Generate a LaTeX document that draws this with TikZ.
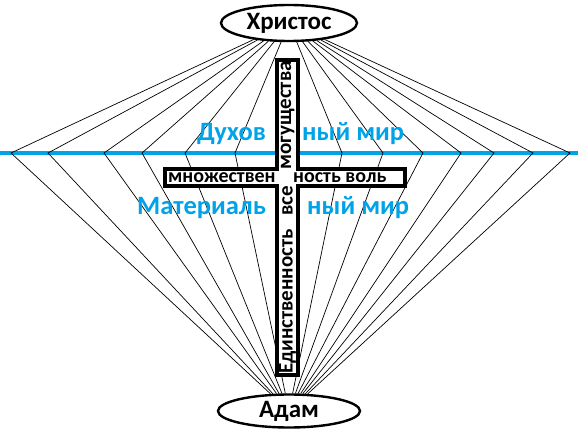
\documentclass[tikz,border=0pt]{standalone}
\usepackage{fontspec}
\setmainfont{Carlito}
\usetikzlibrary{shapes.geometric}
\definecolor{skyblue}{RGB}{0,162,232}

\begin{document}
\begin{tikzpicture}[
    x=1pt, y=-1pt,
    every node/.style={font=\bfseries},
    person/.style={
        draw,
        ellipse,
        line width=2.4pt,
        fill=white,
        inner sep=0pt,
        font=\bfseries\fontsize{25}{25}\selectfont
    },
    world/.style={
        text=skyblue,
        inner sep=0pt,
        anchor=base west,
        font=\bfseries\fontsize{26.5}{26.5}\selectfont
    },
    crossword/.style={
        inner sep=0pt,
        font=\bfseries\fontsize{20}{20}\selectfont
    },
    ray/.style={line width=0.7pt},
    horizon/.style={draw=skyblue, line width=4.5pt},
    crossbar/.style={draw, line width=3.5pt, fill=white}
]
\useasboundingbox (0,0) rectangle (578,433);

% Top and bottom
\node[person, minimum width=136, minimum height=36] (christ) at (289,23) {Христос};
\node[person, minimum width=142, minimum height=33] (adam) at (289,411) {Адам};

% Border between the worlds
\coordinate (west) at (0,153);
\coordinate (east) at (578,153);
\draw[horizon] (west) -- (east);

% Points on the border
\coordinate (l1) at (11,153);
\coordinate (l2) at (48,153);
\coordinate (l3) at (104,153);
\coordinate (l4) at (142,153);
\coordinate (l5) at (185,153);
\coordinate (l6) at (235,153);
\coordinate (r1) at (342,153);
\coordinate (r2) at (383,153);
\coordinate (r3) at (423,153);
\coordinate (r4) at (461,153);
\coordinate (r5) at (494,153);
\coordinate (r6) at (533,153);
\coordinate (r7) at (570,153);

% Rays
\draw[ray] (christ) -- (l1) -- (adam);
\draw[ray] (christ) -- (l2) -- (adam);
\draw[ray] (christ) -- (l3) -- (adam);
\draw[ray] (christ) -- (l4) -- (adam);
\draw[ray] (christ) -- (l5) -- (adam);
\draw[ray] (christ) -- (l6) -- (adam);
\draw[ray] (christ) -- (r1) -- (adam);
\draw[ray] (christ) -- (r2) -- (adam);
\draw[ray] (christ) -- (r3) -- (adam);
\draw[ray] (christ) -- (r4) -- (adam);
\draw[ray] (christ) -- (r5) -- (adam);
\draw[ray] (christ) -- (r6) -- (adam);
\draw[ray] (christ) -- (r7) -- (adam);

% Cross
\draw[crossbar] (277,60) -- (298,60) -- (298,169) -- (405,169) -- (405,186)
    -- (298,186) -- (298,375) -- (277,375) -- (277,186) -- (165,186)
    -- (165,169) -- (277,169) -- cycle;

\node[crossword, anchor=west] (many) at (168,178) {множествен};
\node[crossword, anchor=west] (wills) at (293,178) {ность воль};
\node[crossword, rotate=90, anchor=west, font=\bfseries\fontsize{21}{21}\selectfont] (unity) at (287.5,374) {Единственность};
\node[crossword, rotate=90, font=\bfseries\fontsize{21}{21}\selectfont] (all) at (287.5,201) {все};
\node[crossword, rotate=90, anchor=east, font=\bfseries\fontsize{21}{21}\selectfont] (might) at (287.5,61) {могущества};

% Worlds
\node[world] (spirit) at (197,141) {Духов};
\node[world] (spiritend) at (302,141) {ный мир};
\node[world] (matter) at (137,214) {Материаль};
\node[world] (matterend) at (307,214) {ный мир};

\end{tikzpicture}
\end{document}
